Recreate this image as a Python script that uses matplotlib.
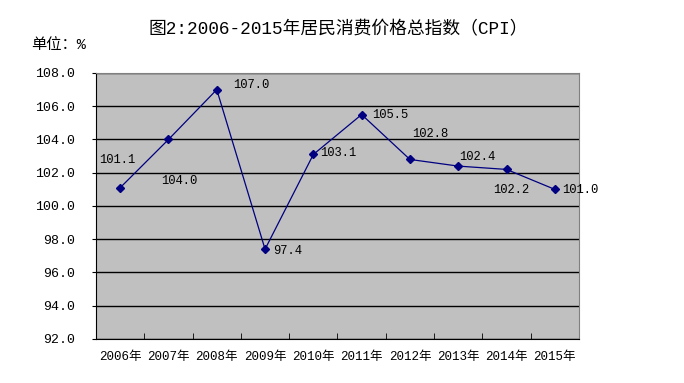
import matplotlib
matplotlib.use("Agg")
import matplotlib.pyplot as plt

plt.rcParams['font.family'] = ['Liberation Mono', 'Noto Sans CJK SC', 'DejaVu Sans']

years = ["2006年", "2007年", "2008年", "2009年", "2010年",
         "2011年", "2012年", "2013年", "2014年", "2015年"]
cpi = [101.1, 104.0, 107.0, 97.4, 103.1, 105.5, 102.8, 102.4, 102.2, 101.0]
y_ticks = [92.0, 94.0, 96.0, 98.0, 100.0, 102.0, 104.0, 106.0, 108.0]

# label placement in pixels (dx, dy, ha) relative to each point
label_pos = [(-3, 28, 'center'), (11, -42, 'center'), (16, 5, 'left'),
             (8, -2, 'left'), (7, 1, 'left'), (11, 0, 'left'),
             (2, 25, 'left'), (1, 9, 'left'), (5, -21, 'center'),
             (7, -1, 'left')]

fig = plt.figure(figsize=(6.84, 3.83), dpi=100)
ax = fig.add_axes([0.1404, 0.1149, 0.706, 0.6945])
ax.set_facecolor('#C0C0C0')

x = list(range(len(years)))
ax.plot(x, cpi, color='#000080', linewidth=0.9, marker='D', markersize=4,
        markerfacecolor='#000080', markeredgecolor='#000080', zorder=3)

for xi, v, (dx, dy, ha) in zip(x, cpi, label_pos):
    ax.annotate(f"{v:.1f}", (xi, v), xytext=(dx, dy), textcoords='offset pixels',
                ha=ha, va='center', fontsize=8.7, color='black', zorder=4)

ax.set_xlim(-0.5, len(years) - 0.5)
ax.set_ylim(92, 108)
ax.set_yticks(y_ticks)
ax.set_yticklabels([f"{t:.1f}" for t in y_ticks], fontsize=9.5)
ax.yaxis.grid(True, color='black', linewidth=1.0)
ax.set_axisbelow(True)

ax.set_xticks(x)
ax.set_xticklabels(years, fontsize=9)
ax.set_xticks([i + 0.5 for i in x[:-1]], minor=True)
ax.tick_params(axis='x', which='major', length=0, pad=9)
ax.tick_params(axis='x', which='minor', direction='in', length=4, color='black')
ax.tick_params(axis='y', length=3, pad=12, color='black')

for side in ['top', 'right']:
    ax.spines[side].set_color('#808080')
for side in ['left', 'bottom']:
    ax.spines[side].set_color('black')

fig.text(0.494, 0.922, "图2:2006-2015年居民消费价格总指数（CPI）",
         ha='center', va='center', fontsize=12.8)
fig.text(0.046, 0.882, "单位：%", ha='left', va='center', fontsize=11)

fig.savefig("out.png", dpi=100)
